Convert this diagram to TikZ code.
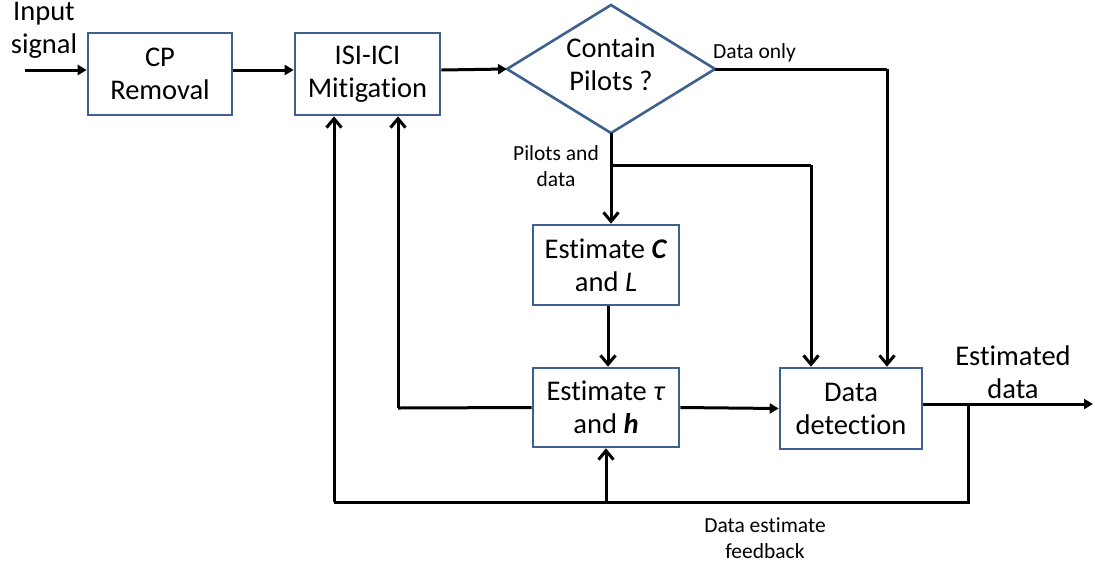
\documentclass[tikz,border=0pt]{standalone}
\usepackage{fontspec}
\setmainfont{Carlito}[RawFeature=-liga]
\usetikzlibrary{arrows.meta}
\definecolor{boxblue}{RGB}{62,96,142}
\tikzset{
  x=1pt, y=-1pt,
  block/.style={draw=boxblue, line width=2.6pt, fill=white, inner sep=0pt,
    align=center, font=\fontsize{28.5}{33}\selectfont},
  lbl/.style={align=center, inner sep=0pt, font=\fontsize{21.5}{26}\selectfont},
  big/.style={align=center, inner sep=0pt, font=\fontsize{28.5}{33}\selectfont},
  wire/.style={line width=3pt, line join=miter},
  harrow/.style={wire, -{Triangle[length=9pt,width=10pt]}},
  varrow/.style={wire, -{Straight Barb[length=9pt,width=15pt,line width=3pt]}},
}
\begin{document}
\begin{tikzpicture}
\useasboundingbox (0,0) rectangle (1095,566);

% processing blocks
\node[block, minimum width=144pt, minimum height=82pt] (cp)  at (160,74) {CP\\Removal};
\node[block, minimum width=145pt, minimum height=82pt] (isi) at (367.5,74) {ISI-ICI\\Mitigation};
\node[block, minimum width=146pt, minimum height=80pt] (estC) at (606,265) {Estimate \textbf{\textit{C}}\\and \textit{L}};
\node[block, minimum width=146pt, minimum height=79pt] (estT) at (606,407.5) {Estimate \textit{τ}\\and \textbf{\textit{h}}};
\node[block, minimum width=142pt, minimum height=81pt] (det)  at (851,408.5) {Data\\detection};

% decision diamond
\coordinate (dL) at (507,69);
\coordinate (dR) at (715,69);
\coordinate (dT) at (611,5);
\coordinate (dB) at (611,133);
\draw[draw=boxblue, line width=2.6pt, fill=white, line join=miter] (dL) -- (dT) -- (dR) -- (dB) -- cycle;
\node[big] (dia) at (611,64) {Contain\\Pilots ?};

% text labels
\node[big] (inlbl) at (44,30) {Input\\signal};
\node[lbl, anchor=west] (dolbl) at (713,53) {Data only};
\node[lbl] (pdlbl) at (556,166) {Pilots and\\data};
\node[big] (outlbl) at (1013,372) {Estimated\\data};
\node[lbl] (fblbl) at (765,538) {Data estimate\\feedback};

% helper points
\coordinate (inS)  at (25,70);
\coordinate (outE) at (1093,404);
\coordinate (j1)   at (611,165);
\coordinate (tapF) at (968,404);
\coordinate (fbR)  at (968,502);
\coordinate (fbM)  at (606,502);
\coordinate (fbL)  at (334,502);
\coordinate (tL)   at (398,408);

% forward path
\draw[harrow] (inS) -- (cp.west |- inS);
\draw[harrow] (cp.east |- inS) -- (isi.west |- inS);
\draw[harrow] (isi.east |- inS) -- (dL);
\draw[varrow] (dB) -- (dB |- estC.north);
\draw[wire] (j1) -- (j1 -| 811,0);
\draw[varrow] (811,165) -- (811,0 |- det.north);
\draw[wire] (dR) -- (887,69);
\draw[varrow] (887,69) -- (887,0 |- det.north);
\draw[varrow] (608,0 |- estC.south) -- (608,0 |- estT.north);
\draw[harrow] (estT.east) -- (det.west);
\draw[harrow] (det.east |- outE) -- (outE);

% feedback paths
\draw[wire] (estT.west) -- (tL);
\draw[varrow] (tL) -- (398,0 |- isi.south);
\draw[wire] (tapF) -- (fbR) -- (fbL);
\draw[varrow] (fbL) -- (334,0 |- isi.south);
\draw[varrow] (fbM) -- (estT.south);
\end{tikzpicture}
\end{document}
